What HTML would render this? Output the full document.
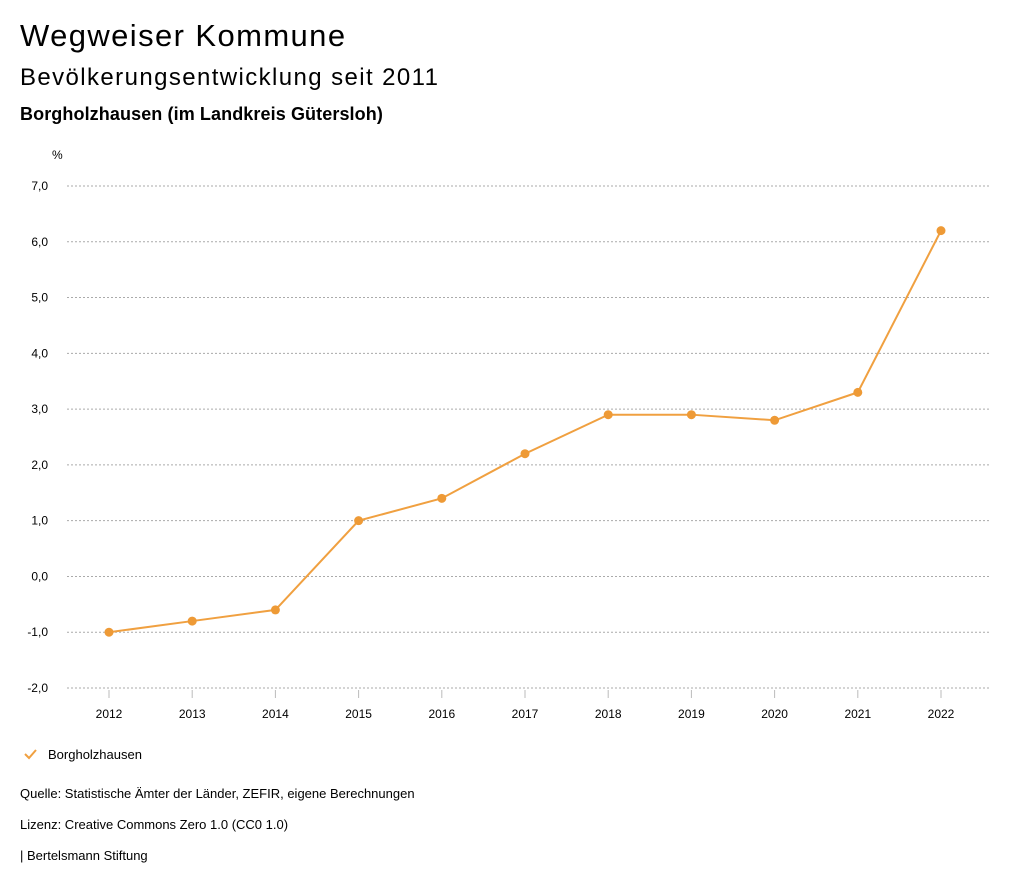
<!DOCTYPE html>
<html><head><meta charset="utf-8"><style>
body{margin:0;width:1024px;height:888px;background:#fff;font-family:"Liberation Sans",sans-serif;color:#000;position:relative;overflow:hidden}
.t{position:absolute;left:20px;white-space:nowrap}
</style></head><body>
<div class="t" style="top:18px;font-size:31px;letter-spacing:1.4px">Wegweiser Kommune</div>
<div class="t" style="top:64px;font-size:24px;letter-spacing:1.4px">Bevölkerungsentwicklung seit 2011</div>
<div class="t" style="top:104px;font-size:18px;font-weight:bold;letter-spacing:0.1px">Borgholzhausen (im Landkreis Gütersloh)</div>
<svg id="chart" width="1024" height="888" style="position:absolute;left:0;top:0" font-family="Liberation Sans, sans-serif"></svg>
<div class="t" style="top:786px;font-size:13px">Quelle: Statistische Ämter der Länder, ZEFIR, eigene Berechnungen</div>
<div class="t" style="top:817px;font-size:13px">Lizenz: Creative Commons Zero 1.0 (CC0 1.0)</div>
<div class="t" style="top:848px;font-size:13px">| Bertelsmann Stiftung</div>
<script>
const years=["2012","2013","2014","2015","2016","2017","2018","2019","2020","2021","2022"];
const values=[-1.0,-0.8,-0.6,1.0,1.4,2.2,2.9,2.9,2.8,3.3,6.2];
const yTicks=[7,6,5,4,3,2,1,0,-1,-2];
const NS="http://www.w3.org/2000/svg";
const svg=document.getElementById('chart');
const X0=67,X1=990,Ytop=186,Ybot=688,ymin=-2,ymax=7;
const x=i=>109+i*(941-109)/(years.length-1);
const y=v=>Ybot-(v-ymin)*(Ybot-Ytop)/(ymax-ymin);
function mk(tag,attrs,txt){const e=document.createElementNS(NS,tag);for(const k in attrs)e.setAttribute(k,attrs[k]);if(txt!=null)e.textContent=txt;svg.appendChild(e);return e;}
let u=mk('text',{x:52,y:159,'font-size':12},'%');


yTicks.forEach(v=>{
  const g=mk('line',{x1:X0,x2:X1,y1:y(v),y2:y(v),stroke:'#aaa','stroke-dasharray':'2,2','stroke-width':1});
  
  
  const t=mk('text',{x:48,y:y(v)+4,'font-size':12,'text-anchor':'end'},v.toFixed(1).replace('.',','));
  
  
});
years.forEach((yr,i)=>{
  const tk=mk('line',{x1:x(i),x2:x(i),y1:690,y2:698,stroke:'#bbb'});
  
  
  const t=mk('text',{x:x(i),y:718,'font-size':12,'text-anchor':'middle'},yr);
  
  
});
const line=mk('polyline',{points:values.map((v,i)=>x(i)+','+y(v)).join(' '),fill:'none',stroke:'#f0a040','stroke-width':2});


values.forEach((v,i)=>{
  const c=mk('circle',{cx:x(i),cy:y(v),r:4.5,fill:'#ee9a36'});
  
  
});
const chk=mk('polyline',{points:'25,754 29,758 36,750',fill:'none',stroke:'#f0a040','stroke-width':2});


const lt=mk('text',{x:48,y:759,'font-size':13},'Borgholzhausen');


</script>
</body></html>
